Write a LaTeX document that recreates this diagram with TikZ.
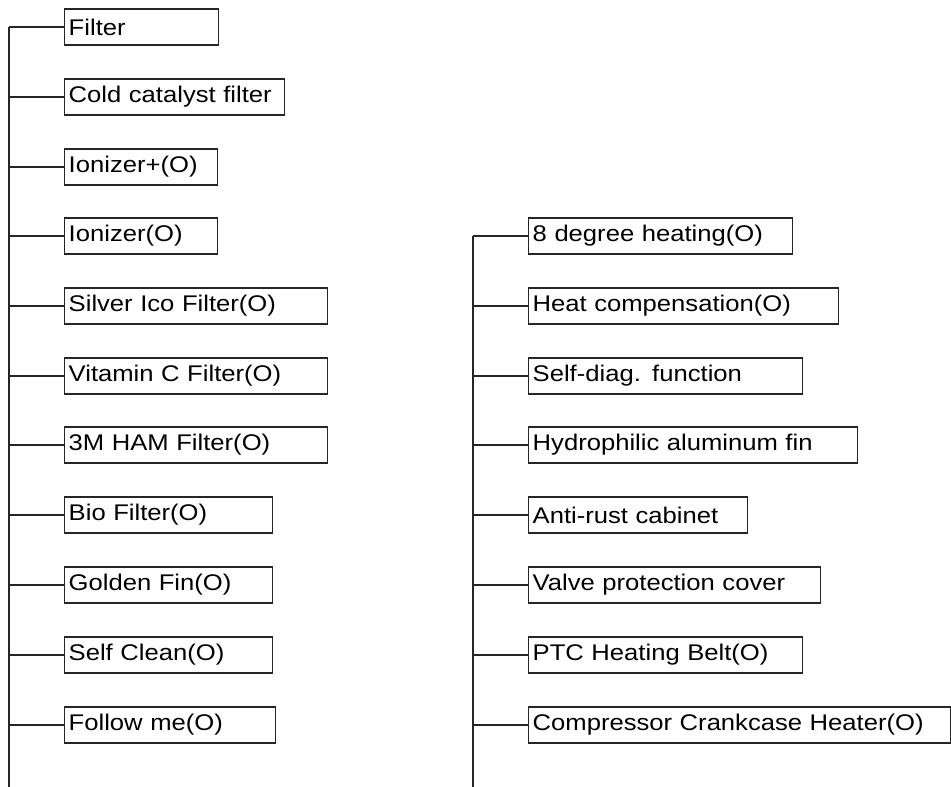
\documentclass[tikz,border=0pt]{standalone}
\usepackage{fontspec}
\setmainfont{Liberation Sans}[FakeStretch=1.13]
\begin{document}
\begin{tikzpicture}[x=0.75pt,y=-0.75pt,
  box/.style={draw=black!85, line width=1.1pt, anchor=west, minimum height=27pt,
    inner xsep=3pt, inner ysep=0pt, align=left, text width=#1,
    font=\fontsize{17}{20}\selectfont},
  conn/.style={draw=black!85, line width=1.1pt}]
\useasboundingbox (0,0) rectangle (951,787);
\fill[white] (0,0) rectangle (951,787);
% left column
\node[box=109.5pt]  (l1)  at (64,27)  {Filter};
\node[box=159pt]    (l2)  at (64,97)  {Cold catalyst filter};
\node[box=108.75pt] (l3)  at (64,167) {Ionizer+(O)};
\node[box=108.75pt] (l4)  at (64,236) {Ionizer(O)};
\node[box=191.25pt] (l5)  at (64,306) {Silver Ico Filter(O)};
\node[box=191.25pt] (l6)  at (64,376) {Vitamin C Filter(O)};
\node[box=191.25pt] (l7)  at (64,445) {3M HAM Filter(O)};
\node[box=150pt]    (l8)  at (64,515) {Bio Filter(O)};
\node[box=150pt]    (l9)  at (64,585) {Golden Fin(O)};
\node[box=150pt]    (l10) at (64,655) {Self Clean(O)};
\node[box=152.25pt] (l11) at (64,725) {Follow me(O)};
\coordinate (ltop) at (9,27);
\coordinate (lbot) at (9,787);
\draw[conn] (ltop) -- (lbot);
\foreach \n in {l1,l2,l3,l4,l5,l6,l7,l8,l9,l10,l11}
  \draw[conn] (\n.west) -- (\n.west -| ltop);
% right column
\node[box=192pt]    (r1) at (528,236) {8 degree heating(O)};
\node[box=226.5pt]  (r2) at (528,306) {Heat compensation(O)};
\node[box=199.5pt]  (r3) at (528,376) {Self-diag. function};
\node[box=240.75pt] (r4) at (528,445) {Hydrophilic aluminum fin};
\node[box=158.25pt] (r5) at (528,515) {Anti-rust cabinet};
\node[box=213pt]    (r6) at (528,585) {Valve protection cover};
\node[box=199.5pt]  (r7) at (528,655) {PTC Heating Belt(O)};
\node[box=310.5pt]  (r8) at (528,725) {Compressor Crankcase Heater(O)};
\coordinate (rtop) at (473,236);
\coordinate (rbot) at (473,787);
\draw[conn] (rtop) -- (rbot);
\foreach \n in {r1,r2,r3,r4,r5,r6,r7,r8}
  \draw[conn] (\n.west) -- (\n.west -| rtop);
\end{tikzpicture}
\end{document}
